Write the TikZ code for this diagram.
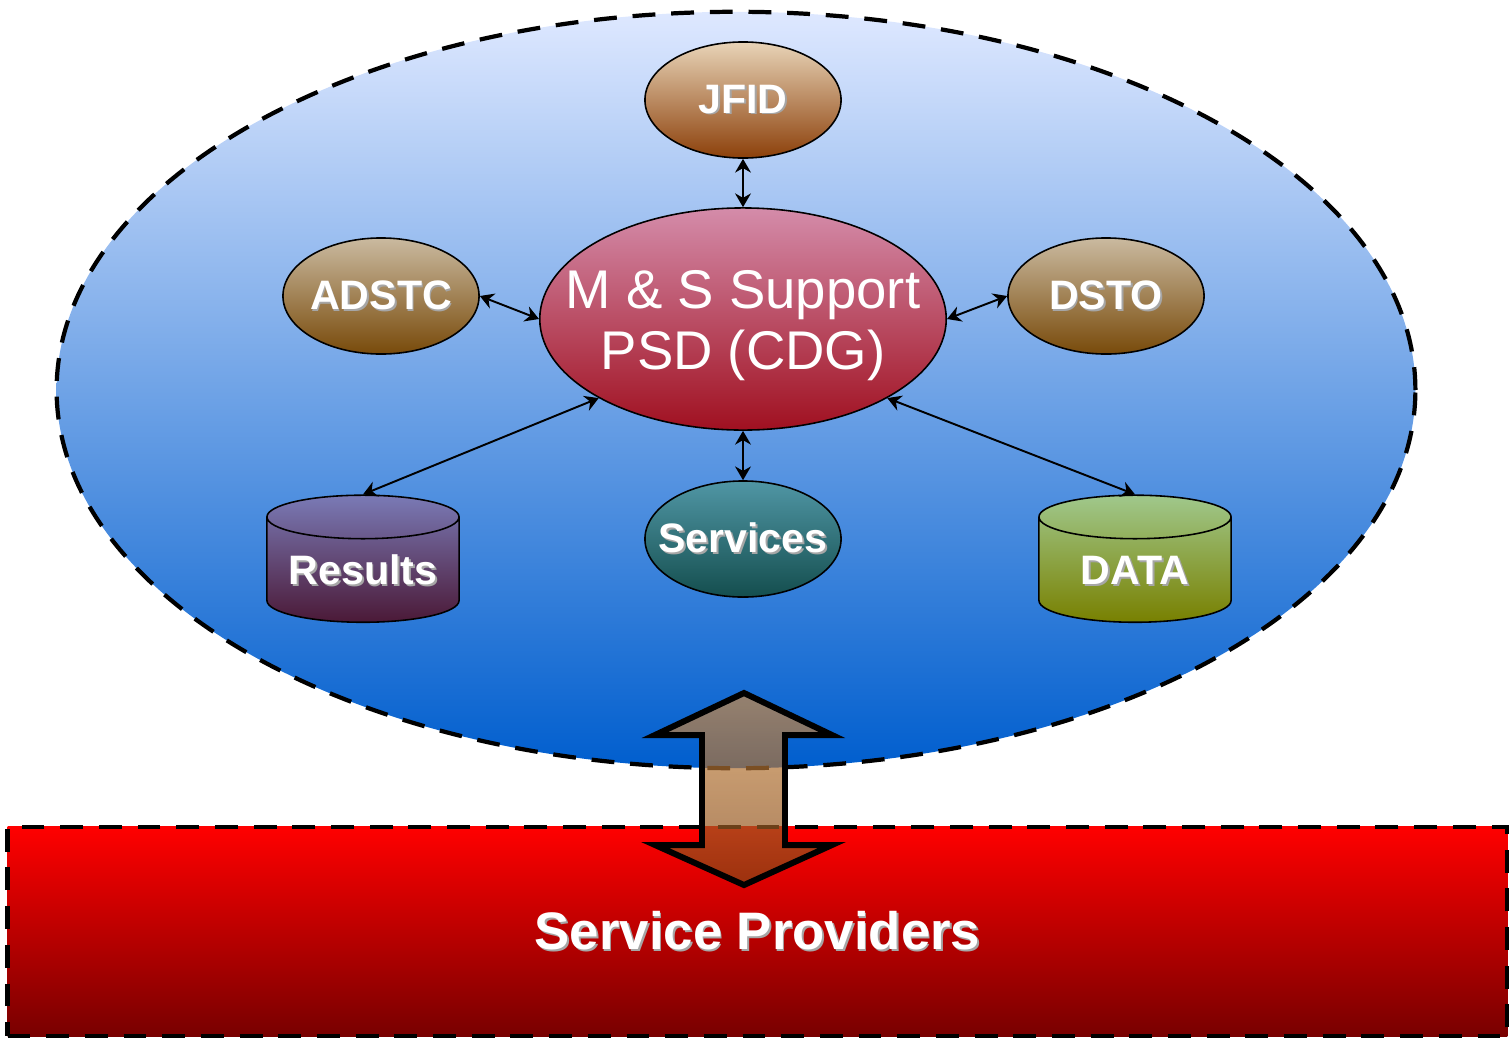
\documentclass[tikz,border=0pt]{standalone}
\usepackage{fontspec}
\setmainfont{Liberation Sans}
\usetikzlibrary{arrows.meta,positioning,shapes.geometric}

\definecolor{skytop}{RGB}{222,232,255}
\definecolor{skybot}{RGB}{0,94,206}
\definecolor{provtop}{RGB}{255,0,0}
\definecolor{provbot}{RGB}{120,0,0}
\definecolor{jfidtop}{RGB}{232,212,184}
\definecolor{jfidbot}{RGB}{140,64,10}
\definecolor{orgtop}{RGB}{202,186,160}
\definecolor{orgbot}{RGB}{120,74,10}
\definecolor{mstop}{RGB}{212,140,170}
\definecolor{msbot}{RGB}{160,16,32}
\definecolor{svctop}{RGB}{80,150,165}
\definecolor{svcbot}{RGB}{20,78,78}
\definecolor{restop}{RGB}{122,122,182}
\definecolor{resbot}{RGB}{75,25,55}
\definecolor{datatop}{RGB}{160,200,140}
\definecolor{databot}{RGB}{120,128,0}
\definecolor{pipetop}{RGB}{205,140,70}
\definecolor{pipebot}{RGB}{130,70,20}

\newcommand{\shtext}[1]{\makebox[0pt][l]{\hspace{0.5pt}\raisebox{-0.5pt}{\textcolor{black!35}{#1}}}#1}

\tikzset{
  fence/.style={draw,line width=1.2pt,dash pattern=on 6.5pt off 4.5pt},
  pill/.style={ellipse,draw,line width=0.45pt,minimum width=1.96cm,minimum height=1.16cm,
    inner xsep=-0.17cm,inner ysep=0pt,text=white,font=\fontsize{11.7}{14}\selectfont\bfseries},
  drum/.style={cylinder,shape border rotate=90,aspect=0.29,draw,line width=0.45pt,
    minimum width=1.92cm,minimum height=1.27cm,inner sep=0pt,text height=8.5pt,text depth=0pt,
    text width=1.5cm,align=center,text=white,font=\fontsize{11.7}{14}\selectfont\bfseries},
  link/.style={{Stealth[length=3.9pt,width=4.5pt]}-{Stealth[length=3.9pt,width=4.5pt]},line width=0.55pt}
}

\begin{document}
\begin{tikzpicture}[x=0.01cm,y=-0.01cm]
  \useasboundingbox (0,0) rectangle (1509,1039);
  % outer zone and provider bar
  \node[ellipse,fence,top color=skytop,bottom color=skybot,minimum width=13.58cm,minimum height=7.56cm,inner sep=0pt] (zone) at (736,390) {};
  \node[rectangle,fence,top color=provtop,bottom color=provbot,minimum width=14.99cm,minimum height=2.09cm,inner sep=0pt,
    text=white,font=\fontsize{15}{18}\selectfont\bfseries] (prov) at (757.5,931.5) {\shtext{Service Providers}};
  % centre
  \node[ellipse,draw,line width=0.45pt,top color=mstop,bottom color=msbot,minimum width=4.06cm,minimum height=2.22cm,
    inner xsep=-0.335cm,inner ysep=0pt,text=white,align=center,font=\fontsize{15.5}{17.6}\selectfont]
    (ms) at (743,319) {\rule{0pt}{14.6pt}M \& S Support\\PSD (CDG)};
  \node[pill,top color=jfidtop,bottom color=jfidbot] (jfid) at (743,100) {\shtext{JFID}};
  \node[pill,top color=orgtop,bottom color=orgbot] (adstc) at (381,296) {\shtext{ADSTC}};
  \node[pill,top color=orgtop,bottom color=orgbot] (dsto) at (1106,296) {\shtext{DSTO}};
  \node[pill,top color=svctop,bottom color=svcbot] (svc) at (743,539) {\shtext{Services}};
  \node[drum,top color=restop,bottom color=resbot] (results) at (363,570) {\shtext{Results}};
  \node[drum,top color=datatop,bottom color=databot] (data) at (1135,570) {\shtext{DATA}};
  % links
  \draw[link] (jfid) -- (ms);
  \draw[link] (adstc.east) -- (ms.west);
  \draw[link] (dsto.west) -- (ms.east);
  \draw[link] (ms) -- (svc);
  \draw[link] (ms.south west) -- (results.north);
  \draw[link] (ms.south east) -- (data.north);
  % two-way arrow to the providers
  \shade[top color=pipetop,bottom color=pipebot,fill opacity=0.7]
    (744,693) -- (832,735) -- (785,735) -- (785,845) -- (832,845) -- (744,885)
    -- (655,845) -- (702,845) -- (702,735) -- (655,735) -- cycle;
  \draw[line width=1.7pt]
    (744,693) -- (832,735) -- (785,735) -- (785,845) -- (832,845) -- (744,885)
    -- (655,845) -- (702,845) -- (702,735) -- (655,735) -- cycle;
\end{tikzpicture}
\end{document}
